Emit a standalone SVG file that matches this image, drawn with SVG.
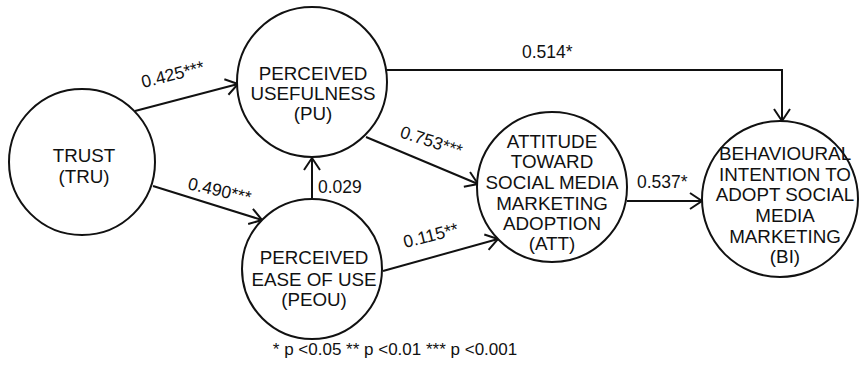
<svg xmlns="http://www.w3.org/2000/svg" width="860" height="369" viewBox="0 0 860 369">
<style>
.node circle{fill:#fff;stroke:#111;stroke-width:2}
.node text{font-family:"Liberation Sans",Arial,sans-serif;font-size:18.8px;fill:#111;text-anchor:middle}
.edge{fill:none;stroke:#111;stroke-width:2;marker-end:url(#ah)}
.lbl{font-family:"Liberation Sans",Arial,sans-serif;font-size:17.5px;fill:#111}
.note{font-family:"Liberation Sans",Arial,sans-serif;font-size:17px;fill:#111;text-anchor:middle}
</style>
<defs>
<marker id="ah" markerUnits="userSpaceOnUse" markerWidth="16" markerHeight="20" refX="13" refY="9" orient="auto">
<path d="M1,1 L13,9 L1,17" fill="none" stroke="#111" stroke-width="2"/>
</marker>
</defs>
<rect width="860" height="369" fill="#fff"/>
<g id="connectors">
<line class="edge" x1="135" y1="111" x2="238" y2="84"/>
<line class="edge" x1="153" y1="186" x2="262" y2="220"/>
<line class="edge" x1="312" y1="199" x2="312" y2="158"/>
<line class="edge" x1="366" y1="137" x2="478" y2="184"/>
<line class="edge" x1="383" y1="271" x2="498" y2="239"/>
<line class="edge" x1="627" y1="201" x2="702" y2="201"/>
<polyline class="edge" points="387,70 782,70 782,121"/>
<text class="lbl" transform="translate(143,88) rotate(-14)">0.425***</text>
<text class="lbl" transform="translate(187,189) rotate(13)">0.490***</text>
<text class="lbl" x="318" y="193">0.029</text>
<text class="lbl" transform="translate(399,137) rotate(18)">0.753***</text>
<text class="lbl" transform="translate(405,248) rotate(-14)">0.115**</text>
<text class="lbl" x="637" y="188">0.537*</text>
<text class="lbl" x="522" y="58">0.514*</text>
</g>
<g id="TRU" class="node">
<circle cx="82" cy="162" r="73"/>
<text x="84" y="162">TRUST</text>
<text x="84" y="183">(TRU)</text>
</g>
<g id="PU" class="node">
<circle cx="312" cy="82" r="75"/>
<text x="313" y="80">PERCEIVED</text>
<text x="313" y="100">USEFULNESS</text>
<text x="313" y="120">(PU)</text>
</g>
<g id="PEOU" class="node">
<circle cx="312" cy="269" r="70"/>
<text x="314" y="264">PERCEIVED</text>
<text x="314" y="286">EASE OF USE</text>
<text x="314" y="306">(PEOU)</text>
</g>
<g id="ATT" class="node">
<circle cx="552" cy="187" r="75"/>
<text x="552" y="148">ATTITUDE</text>
<text x="552" y="168">TOWARD</text>
<text x="552" y="189">SOCIAL MEDIA</text>
<text x="552" y="210">MARKETING</text>
<text x="552" y="230">ADOPTION</text>
<text x="552" y="250">(ATT)</text>
</g>
<g id="BI" class="node">
<circle cx="780" cy="199" r="78"/>
<text x="785" y="160">BEHAVIOURAL</text>
<text x="785" y="181">INTENTION TO</text>
<text x="785" y="201">ADOPT SOCIAL</text>
<text x="785" y="222">MEDIA</text>
<text x="785" y="243">MARKETING</text>
<text x="785" y="263">(BI)</text>
</g>
<text class="note" x="395" y="355">* p &lt;0.05 ** p &lt;0.01 *** p &lt;0.001</text>
</svg>
